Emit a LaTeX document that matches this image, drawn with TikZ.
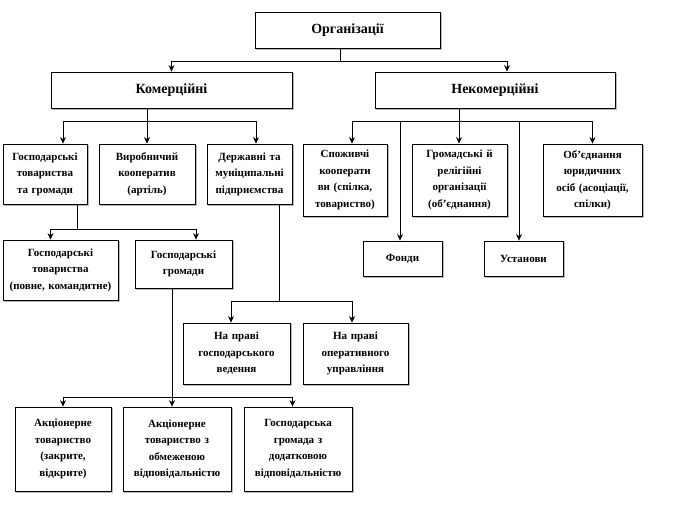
\documentclass[tikz,border=0pt]{standalone}
\usepackage{fontspec}
\setmainfont{Liberation Serif}
\usetikzlibrary{arrows.meta}
\tikzset{
  box/.style={draw, line width=0.8pt, rectangle, inner sep=0pt, align=center, fill=white,
    preaction={draw=gray!55, line width=0.8pt, transform canvas={shift={(1.2pt,-1.2pt)}}},
    font=\bfseries\fontsize{11}{16.5}\selectfont},
  big/.style={font=\bfseries\fontsize{14}{16}\selectfont},
  conn/.style={line width=0.8pt},
  arr/.style={conn, -{Stealth[length=6.5pt,width=6pt]}},
}
\newcommand\mybox[7][]{\node[box,#1,minimum width={#5-#3},minimum height={#6-#4},text width={#5-#3-4}] (#2) at ({(#3+#5)/2},{(#4+#6)/2}) {#7};}
\begin{document}
\begin{tikzpicture}[x=1pt,y=-1pt]
\useasboundingbox (0,0) rectangle (675,516);
% boxes
\mybox[big]{org}{255}{12}{440}{48}{Організації}
\mybox[big]{kom}{51}{72}{292}{108}{Комерційні}
\mybox[big]{nek}{375}{72}{615}{108}{Некомерційні}
\mybox{gtg}{3}{144}{87}{204}{Господарські\\товариства\\та громади}
\mybox{vk}{99}{144}{195}{204}{Виробничий\\кооператив\\(артіль)}
\mybox{dmp}{207}{144}{292}{204}{Державні та\\муніципальні\\підприємства}
\mybox{sk}{303}{144}{387}{216}{Споживчі\\кооперати\\ви (спілка,\\товариство)}
\mybox{gro}{412}{144}{507}{216}{Громадські й\\релігійні\\організації\\(об’єднання)}
\mybox{ojo}{543}{144}{642}{216}{Об’єднання\\юридичних\\осіб (асоціації,\\спілки)}
\mybox{fon}{363}{241}{442}{276}{Фонди}
\mybox{ust}{484}{241}{563}{276}{Установи}
\mybox{gt}{3}{240}{118}{300}{Господарські\\товариства\\(повне, командитне)}
\mybox{gg}{135}{240}{232}{288}{Господарські\\громади}
\mybox{pgv}{183}{323}{290}{384}{На праві\\господарського\\ведення}
\mybox{pou}{303}{323}{408}{384}{На праві\\оперативного\\управління}
\mybox{at}{15}{407}{111}{491}{Акціонерне\\товариство\\(закрите,\\відкрите)}
\mybox{atov}{123}{407}{231}{491}{Акціонерне\\товариство з\\обмеженою\\відповідальністю}
\mybox{ggdv}{244}{407}{352}{491}{Господарська\\громада з\\додатковою\\відповідальністю}
% junctions
\coordinate (j0) at (340,61);
\coordinate (j1) at (147,121);
\coordinate (j2) at (459,121);
\coordinate (j3) at (77,229);
\coordinate (j4) at (279,301);
\coordinate (j5) at (172,397);
% connectors
\draw[conn] (j0 |- org.south) -- (j0);
\draw[arr] (j0) -| (kom.north);
\draw[arr] (j0) -| ([xshift=12pt]nek.north);

\draw[conn] (j1 |- kom.south) -- (j1);
\draw[arr] (j1) -| ([xshift=18pt]gtg.north);
\draw[arr] (j1) -- (j1 |- vk.north);
\draw[arr] (j1) -| ([xshift=6.5pt]dmp.north);

\draw[conn] (j2 |- nek.south) -- (j2);
\draw[arr] (j2) -| ([xshift=7pt]sk.north);
\draw[arr] (j2) -- (j2 |- gro.north);
\draw[arr] (j2) -| (ojo.north);
\draw[arr] (j2) -| ([xshift=-2.5pt]fon.north);
\draw[arr] (j2) -| ([xshift=-4.5pt]ust.north);

\draw[conn] (j3 |- gtg.south) -- (j3);
\draw[arr] (j3) -| ([xshift=-10pt]gt.north);
\draw[arr] (j3) -| ([xshift=12.5pt]gg.north);

\draw[conn] (j4 |- dmp.south) -- (j4);
\draw[arr] (j4) -| ([xshift=-5.5pt]pgv.north);
\draw[arr] (j4) -| ([xshift=-3.5pt]pou.north);

\draw[conn] (j5 |- gg.south) -- (j5);
\draw[arr] (j5) -| (at.north);
\draw[arr] (j5) -- (j5 |- atov.north);
\draw[arr] (j5) -| ([xshift=-5.5pt]ggdv.north);
\end{tikzpicture}
\end{document}
